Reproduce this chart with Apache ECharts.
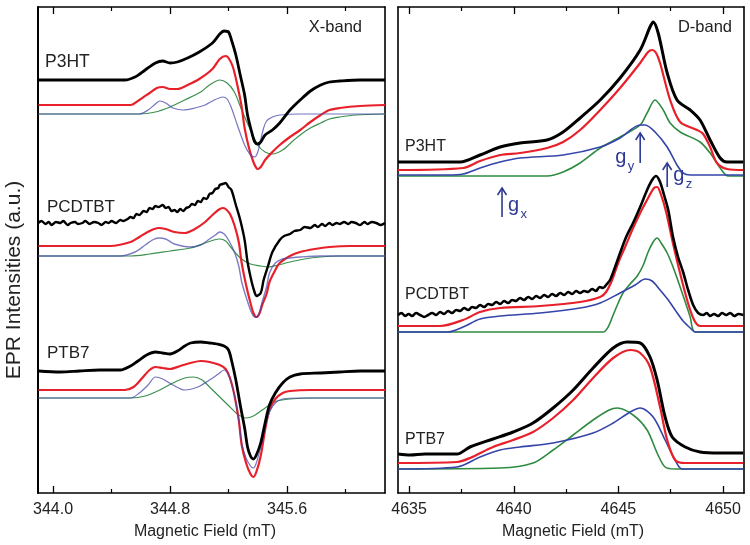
<!DOCTYPE html>
<html><head><meta charset="utf-8">
<script src="https://cdn.jsdelivr.net/npm/echarts@6/dist/echarts.min.js"></script>
<style>html,body{margin:0;padding:0;background:#fff}#c{width:750px;height:545px}</style>
</head><body><div id="c"></div>
<script>
// ---------- tick values ----------
const xMajor = [344.0, 344.8, 345.6];
const xMinor = [344.4, 345.2, 346.0];
const dMajor = [4635, 4640, 4645, 4650];
const dMinor = [4637.5, 4642.5, 4647.5];

// ---------- X-band spectra [field mT, intensity a.u.] ----------
const xP3HT_exp = [[343.90,413],[344.49,413],[344.56,416],[344.63,423],[344.70,430],[344.75,432],[344.80,430],[344.85,431],[344.92,435],[345.00,441],[345.09,450],[345.14,459],[345.17,462],[345.20,461],[345.22,453],[345.25,438],[345.28,418],[345.31,398],[345.33,378],[345.36,360],[345.38,351],[345.40,349],[345.42,351],[345.45,358],[345.50,363],[345.55,370],[345.62,383],[345.69,393],[345.76,402],[345.83,408],[345.89,411],[345.96,412],[346.10,413],[346.27,413]];
const xP3HT_sim = [[343.90,388],[344.53,388],[344.59,393],[344.66,400],[344.71,405],[344.75,406],[344.80,404],[344.85,404],[344.92,408],[345.00,414],[345.09,424],[345.14,434],[345.18,437],[345.20,435],[345.23,426],[345.26,408],[345.29,386],[345.31,365],[345.34,345],[345.37,331],[345.39,325],[345.40,324],[345.42,326],[345.45,333],[345.50,341],[345.55,348],[345.62,356],[345.69,363],[345.76,371],[345.83,378],[345.89,383],[345.96,385],[346.10,387],[346.27,388]];
const xP3HT_c1 = [[343.90,379],[344.59,379],[344.65,383],[344.70,389],[344.73,392],[344.77,390],[344.82,385],[344.89,383],[344.97,385],[345.04,388],[345.09,392],[345.16,396],[345.19,394],[345.22,385],[345.26,368],[345.31,348],[345.35,338],[345.38,336],[345.40,341],[345.42,353],[345.44,365],[345.46,372],[345.50,376],[345.55,378],[345.69,379],[346.27,379]];
const xP3HT_c2 = [[343.90,379],[344.59,379],[344.70,381],[344.80,386],[344.90,393],[345.01,401],[345.07,408],[345.14,413],[345.19,410],[345.24,401],[345.29,383],[345.35,363],[345.40,348],[345.45,341],[345.50,339],[345.57,343],[345.64,352],[345.69,358],[345.76,365],[345.83,370],[345.89,374],[345.96,376],[346.07,378],[346.27,379]];

const xPCDTBT_exp = [[343.90,270],[343.92,272],[343.95,269],[343.97,271],[343.99,268],[344.02,271],[344.05,270],[344.07,272],[344.10,268],[344.12,270],[344.15,271],[344.17,269],[344.20,270],[344.22,272],[344.25,269],[344.28,271],[344.31,270],[344.33,268],[344.36,271],[344.38,270],[344.40,272],[344.43,270],[344.46,273],[344.48,272],[344.51,274],[344.53,276],[344.55,275],[344.57,279],[344.59,278],[344.62,282],[344.64,281],[344.66,285],[344.68,284],[344.70,287],[344.72,286],[344.75,288],[344.77,285],[344.79,286],[344.81,282],[344.83,283],[344.85,281],[344.87,284],[344.89,282],[344.91,285],[344.93,286],[344.95,289],[344.97,288],[344.99,292],[345.01,291],[345.03,295],[345.05,294],[345.07,299],[345.09,300],[345.11,304],[345.13,305],[345.14,308],[345.16,309],[345.18,310],[345.20,306],[345.22,303],[345.25,288],[345.28,273],[345.31,253],[345.33,231],[345.36,210],[345.38,200],[345.39,197],[345.42,200],[345.44,213],[345.47,227],[345.50,241],[345.55,253],[345.58,257],[345.62,259],[345.65,262],[345.69,263],[345.72,266],[345.76,265],[345.79,268],[345.81,266],[345.84,269],[345.86,267],[345.89,270],[345.91,268],[345.94,270],[345.96,269],[345.99,271],[346.02,269],[346.04,271],[346.07,270],[346.10,268],[346.13,271],[346.15,269],[346.18,271],[346.21,270],[346.24,268],[346.27,270]];
const xPCDTBT_sim = [[343.90,247],[344.39,247],[344.53,251],[344.59,256],[344.66,262],[344.72,265],[344.77,264],[344.83,261],[344.90,260],[344.97,264],[345.04,271],[345.09,278],[345.13,283],[345.16,285],[345.18,284],[345.21,279],[345.24,268],[345.27,251],[345.29,230],[345.32,208],[345.35,190],[345.37,180],[345.39,176],[345.41,179],[345.43,188],[345.46,199],[345.48,211],[345.52,223],[345.55,230],[345.62,237],[345.69,241],[345.79,244],[345.89,246],[346.03,247],[346.27,247]];
const xPCDTBT_c1 = [[343.90,237],[344.46,237],[344.56,241],[344.63,248],[344.68,253],[344.72,255],[344.77,254],[344.83,249],[344.94,246],[345.01,248],[345.07,254],[345.11,258],[345.14,261],[345.17,259],[345.20,253],[345.24,241],[345.27,227],[345.29,211],[345.32,196],[345.35,183],[345.37,177],[345.39,176],[345.41,180],[345.43,191],[345.46,206],[345.48,220],[345.52,230],[345.57,234],[345.62,235],[345.69,236],[345.83,237],[346.27,237]];
const xPCDTBT_c2 = [[343.90,237],[344.53,237],[344.66,239],[344.80,242],[344.94,245],[345.04,250],[345.10,253],[345.14,254],[345.18,252],[345.22,245],[345.28,235],[345.35,229],[345.42,227],[345.47,226],[345.54,228],[345.62,231],[345.72,234],[345.83,236],[345.96,237],[346.27,237]];

const xPTB7_exp = [[343.90,122],[344.05,121],[344.18,122],[344.32,123],[344.46,123],[344.53,127],[344.58,132],[344.64,138],[344.70,141],[344.75,140],[344.80,139],[344.85,142],[344.90,147],[344.94,150],[345.01,151],[345.07,150],[345.12,149],[345.17,147],[345.20,143],[345.22,133],[345.25,113],[345.28,88],[345.31,65],[345.33,46],[345.35,37],[345.37,34],[345.39,38],[345.42,50],[345.45,70],[345.48,88],[345.52,100],[345.57,110],[345.62,116],[345.69,119],[345.83,120],[345.96,121],[346.10,122],[346.27,122]];
const xPTB7_sim = [[343.90,103],[344.49,103],[344.55,106],[344.61,115],[344.66,123],[344.70,126],[344.75,125],[344.80,124],[344.87,127],[344.94,130],[345.01,132],[345.07,131],[345.14,128],[345.18,124],[345.21,115],[345.24,98],[345.27,73],[345.29,48],[345.32,30],[345.35,19],[345.37,16],[345.39,21],[345.42,37],[345.45,63],[345.48,83],[345.52,94],[345.57,100],[345.62,102],[345.76,103],[346.27,103]];
const xPTB7_c1 = [[343.90,95],[344.53,95],[344.59,100],[344.65,108],[344.70,116],[344.75,114],[344.82,108],[344.90,103],[344.99,106],[345.07,113],[345.13,119],[345.17,123],[345.20,118],[345.24,98],[345.27,73],[345.29,50],[345.32,35],[345.35,27],[345.37,25],[345.39,30],[345.42,46],[345.45,65],[345.48,81],[345.52,90],[345.57,94],[345.69,95],[346.27,95]];
const xPTB7_c2 = [[343.90,95],[344.53,95],[344.63,97],[344.73,103],[344.82,110],[344.90,115],[344.96,116],[345.02,113],[345.07,106],[345.14,96],[345.21,86],[345.26,79],[345.32,75],[345.37,77],[345.43,83],[345.48,88],[345.53,92],[345.62,94],[345.76,95],[346.27,95]];

// ---------- D-band spectra ----------
const dP3HT_exp = [[4634.47,331],[4637.44,331],[4638.39,338],[4639.35,346],[4640.30,350],[4641.59,353],[4642.36,361],[4643.17,375],[4644.13,393],[4645.08,415],[4646.04,443],[4646.51,466],[4646.66,471],[4646.90,460],[4647.33,420],[4647.80,393],[4648.43,383],[4648.90,373],[4649.38,353],[4649.86,335],[4650.19,331],[4650.96,331]];
const dP3HT_sim = [[4634.47,323],[4637.58,325],[4638.39,332],[4639.35,338],[4640.30,340],[4641.59,345],[4642.36,351],[4643.17,363],[4644.13,383],[4645.08,405],[4646.04,430],[4646.42,441],[4646.61,443],[4646.80,440],[4646.99,430],[4647.47,393],[4647.95,371],[4648.76,363],[4649.05,359],[4649.38,346],[4649.71,330],[4650.19,324],[4650.96,323]];
const dP3HT_c1 = [[4634.47,318],[4636.82,318],[4637.58,319],[4638.39,325],[4639.35,331],[4640.30,335],[4642.36,338],[4644.13,346],[4645.08,355],[4646.04,368],[4646.28,368],[4646.75,361],[4647.33,346],[4647.80,328],[4648.09,320],[4648.43,318],[4650.96,318]];
const dP3HT_c2 = [[4634.47,317],[4641.59,317],[4642.36,321],[4643.17,330],[4644.13,345],[4645.08,356],[4646.04,368],[4646.37,380],[4646.75,393],[4647.14,383],[4647.47,370],[4647.95,361],[4648.90,351],[4649.38,340],[4649.86,325],[4650.24,317],[4650.96,317]];

const dPCDTBT_exp = [[4634.47,178],[4634.64,180],[4634.81,177],[4634.98,179],[4635.14,177],[4635.33,180],[4635.53,178],[4635.72,176],[4635.91,178],[4636.10,180],[4636.29,178],[4636.48,181],[4636.67,179],[4636.86,182],[4637.05,180],[4637.25,183],[4637.44,182],[4637.63,185],[4637.82,183],[4638.01,186],[4638.20,185],[4638.39,188],[4638.58,186],[4638.78,189],[4638.97,188],[4639.16,191],[4639.35,189],[4639.54,192],[4639.73,190],[4639.92,193],[4640.11,192],[4640.30,195],[4640.49,193],[4640.69,196],[4640.88,194],[4641.07,197],[4641.26,195],[4641.45,198],[4641.64,196],[4641.83,199],[4642.02,197],[4642.22,200],[4642.41,198],[4642.60,201],[4642.79,199],[4642.98,202],[4643.17,200],[4643.36,202],[4643.55,201],[4643.74,204],[4643.93,202],[4644.10,206],[4644.27,205],[4644.45,209],[4644.60,213],[4644.79,223],[4645.08,240],[4645.37,256],[4645.70,270],[4646.04,286],[4646.37,303],[4646.61,313],[4646.80,317],[4646.99,311],[4647.18,298],[4647.38,283],[4647.61,256],[4647.85,236],[4648.09,221],[4648.33,203],[4648.57,188],[4648.81,180],[4649.05,178],[4649.22,180],[4649.38,177],[4649.57,179],[4649.76,177],[4649.95,180],[4650.15,178],[4650.34,180],[4650.53,177],[4650.74,179],[4650.96,178]];
const dPCDTBT_sim = [[4634.47,167],[4636.48,167],[4637.58,173],[4638.39,181],[4639.35,185],[4641.26,187],[4643.17,191],[4644.13,196],[4644.41,201],[4644.70,213],[4644.99,230],[4645.32,246],[4645.66,263],[4646.04,280],[4646.42,295],[4646.70,305],[4646.85,306],[4647.04,298],[4647.28,281],[4647.57,253],[4647.85,228],[4648.19,200],[4648.43,183],[4648.67,171],[4648.90,167],[4650.96,167]];
const dPCDTBT_c1 = [[4634.47,161],[4636.82,161],[4637.58,166],[4638.39,174],[4639.35,177],[4641.26,180],[4643.17,185],[4644.13,190],[4645.08,200],[4645.80,208],[4646.28,214],[4646.61,212],[4646.99,203],[4647.38,193],[4647.71,183],[4648.09,172],[4648.43,165],[4648.67,161],[4650.96,161]];
const dPCDTBT_c2 = [[4634.47,161],[4644.27,161],[4644.51,166],[4644.75,178],[4644.99,190],[4645.22,200],[4645.56,209],[4645.90,217],[4646.19,228],[4646.42,241],[4646.66,251],[4646.85,255],[4647.04,250],[4647.33,240],[4647.61,226],[4647.95,206],[4648.24,188],[4648.43,176],[4648.67,161],[4650.96,161]];

const dPTB7_exp = [[4634.47,39],[4635.05,38],[4635.76,39],[4636.48,39],[4637.29,39],[4637.91,46],[4639.01,54],[4639.97,61],[4640.92,70],[4641.88,85],[4642.84,103],[4643.79,125],[4644.75,145],[4645.42,151],[4646.04,150],[4646.51,136],[4646.85,113],[4647.23,76],[4647.57,56],[4648.19,46],[4648.90,41],[4649.86,40],[4650.96,40]];
const dPTB7_sim = [[4634.47,30],[4637.29,31],[4637.91,35],[4639.01,46],[4639.97,53],[4640.92,61],[4641.88,75],[4642.84,93],[4643.79,115],[4644.75,135],[4645.56,143],[4646.04,140],[4646.51,126],[4646.99,86],[4647.33,53],[4647.71,33],[4648.19,30],[4650.96,30]];
const dPTB7_c1 = [[4634.47,24],[4637.29,26],[4638.39,36],[4639.35,43],[4640.30,46],[4641.88,50],[4643.79,60],[4644.75,70],[4645.56,81],[4646.04,85],[4646.66,76],[4647.23,53],[4647.71,33],[4648.04,24],[4650.96,24]];
const dPTB7_c2 = [[4634.47,24],[4639.35,25],[4640.92,30],[4641.88,43],[4642.84,58],[4643.79,73],[4644.56,83],[4644.94,85],[4645.70,78],[4646.37,63],[4646.85,40],[4647.23,26],[4647.71,24],[4650.96,24]];

// ---------- annotation arrows on D-band: [label, sub, field, from, to] ----------
const gArrows = [['g','x',4639.44,276,305],['g','y',4646.04,330,360],['g','z',4647.33,306,330]];

// ---------- rendering ----------
const FONT = '"Liberation Sans", Arial, Helvetica, sans-serif';
const TXT = '#222';
const chart = echarts.init(document.getElementById('c'), null, {renderer:'canvas'});

const G = [
  {left:38, top:7, width:347, height:486},
  {left:398, top:7, width:346, height:486}
];
const RANGES = [[343.897, 346.27],[4634.47, 4651.0]];
const MAJ = [xMajor, dMajor], MIN = [xMinor, dMinor];
const FMT = [v => v.toFixed(1), v => String(Math.round(v))];

const xAxes = [], yAxes = [];
for (let g = 0; g < 2; g++) {
  const base = {type:'value', gridIndex:g, min:RANGES[g][0], max:RANGES[g][1], splitLine:{show:false}};
  xAxes.push(Object.assign({}, base, {position:'bottom',
    axisLine:{show:true, onZero:false, lineStyle:{color:'#000', width:1.6}},
    axisTick:{show:true, inside:true, length:7, customValues:MAJ[g], lineStyle:{color:'#000', width:1.3}},
    axisLabel:{show:true, customValues:MAJ[g], formatter:FMT[g], margin:9, fontSize:16, color:TXT, fontFamily:FONT}}));
  xAxes.push(Object.assign({}, base, {position:'bottom',
    axisLine:{show:false, onZero:false},
    axisTick:{show:true, inside:true, length:4, customValues:MIN[g], lineStyle:{color:'#000', width:1.2}},
    axisLabel:{show:false}}));
  xAxes.push(Object.assign({}, base, {position:'top',
    axisLine:{show:true, onZero:false, lineStyle:{color:'#000', width:1.6}},
    axisTick:{show:true, inside:true, length:7, customValues:MAJ[g], lineStyle:{color:'#000', width:1.3}},
    axisLabel:{show:false}}));
  xAxes.push(Object.assign({}, base, {position:'top',
    axisLine:{show:false, onZero:false},
    axisTick:{show:true, inside:true, length:4, customValues:MIN[g], lineStyle:{color:'#000', width:1.2}},
    axisLabel:{show:false}}));
  const yb = {type:'value', gridIndex:g, min:0, max:486, splitLine:{show:false}, axisTick:{show:false}, axisLabel:{show:false}};
  yAxes.push(Object.assign({}, yb, {position:'left', axisLine:{show:true, onZero:false, lineStyle:{color:'#000', width: g===0?2:1.6}}}));
  yAxes.push(Object.assign({}, yb, {position:'right', axisLine:{show:true, onZero:false, lineStyle:{color:'#000', width:1.6}}}));
}

function ln(data, g, color, width, opacity) {
  return {type:'line', data:data, xAxisIndex:g*4, yAxisIndex:g*2, showSymbol:false, symbol:'none',
    smooth:0.3, animation:false, silent:true,
    lineStyle:{color:color, width:width, opacity:opacity===undefined?1:opacity}};
}
const RED = '#e8202a', BLK = '#000000';
const BLU_X = '#4646ac', GRN_X = '#3d9050';
const BLU_D = '#3444a8', GRN_D = '#2f8a42';

const series = [
  ln(xP3HT_c2,0,GRN_X,1.2), ln(xP3HT_sim,0,RED,2.2), ln(xP3HT_c1,0,BLU_X,1.2,0.75), ln(xP3HT_exp,0,BLK,2.8),
  ln(xPCDTBT_c2,0,GRN_X,1.2), ln(xPCDTBT_sim,0,RED,2.2), ln(xPCDTBT_c1,0,BLU_X,1.4,0.7), ln(xPCDTBT_exp,0,BLK,2.4),
  ln(xPTB7_c2,0,GRN_X,1.2), ln(xPTB7_sim,0,RED,2.2), ln(xPTB7_c1,0,BLU_X,1.2,0.75), ln(xPTB7_exp,0,BLK,2.8),
  ln(dP3HT_c2,1,GRN_D,1.6), ln(dP3HT_c1,1,BLU_D,1.6), ln(dP3HT_sim,1,RED,2.2), ln(dP3HT_exp,1,BLK,3),
  ln(dPCDTBT_c2,1,GRN_D,1.6), ln(dPCDTBT_c1,1,BLU_D,1.6), ln(dPCDTBT_sim,1,RED,2.2), ln(dPCDTBT_exp,1,BLK,2.6),
  ln(dPTB7_c2,1,GRN_D,1.6), ln(dPTB7_c1,1,BLU_D,1.6), ln(dPTB7_sim,1,RED,2.2), ln(dPTB7_exp,1,BLK,3)
];

chart.setOption({
  backgroundColor:'#fff', animation:false,
  grid:G, xAxis:xAxes, yAxis:yAxes, series:series
});

// text labels (layout positions)
function txt(x, y, s, size, align, extra) {
  return Object.assign({type:'text', x:x, y:y, silent:true,
    style:{text:s, fontSize:size, fontFamily:FONT, fill:TXT, align:align||'left', verticalAlign:'middle'}}, extra||{});
}
const graphics = [
  txt(14, 280, 'EPR Intensities (a.u.)', 21, 'center', {rotation:Math.PI/2}),
  txt(205, 532, 'Magnetic Field (mT)', 16, 'center'),
  txt(573, 532, 'Magnetic Field (mT)', 16, 'center'),
  txt(362, 27, 'X-band', 16.5, 'right'),
  txt(732, 27, 'D-band', 16.5, 'right'),
  txt(45, 62, 'P3HT', 17.5), txt(47, 207, 'PCDTBT', 17), txt(47, 353, 'PTB7', 17),
  txt(405, 147, 'P3HT', 16), txt(405, 295, 'PCDTBT', 16), txt(405, 440, 'PTB7', 16)
];
// arrows anchored through the D-band axes
const ARROW = '#2e3a94';
const dSeriesIdx = 15;
gArrows.forEach(function(a, i) {
  const p0 = chart.convertToPixel({seriesIndex:dSeriesIdx}, [a[2], a[3]]);
  const p1 = chart.convertToPixel({seriesIndex:dSeriesIdx}, [a[2], a[4]]);
  graphics.push({type:'line', silent:true, shape:{x1:p0[0], y1:p0[1], x2:p1[0], y2:p1[1]}, style:{stroke:ARROW, lineWidth:1.6}});
  graphics.push({type:'polyline', silent:true, shape:{points:[[p1[0]-4.5,p1[1]+7],[p1[0],p1[1]],[p1[0]+4.5,p1[1]+7]]}, style:{stroke:ARROW, lineWidth:1.6, fill:null}});
  let gx, gy;
  if (i === 1) { gx = p1[0] - 25; gy = p0[1] - 6; }
  else { gx = p1[0] + 6; gy = p0[1] - 12; }
  graphics.push({type:'text', x:gx, y:gy, silent:true, style:{text:a[0], fontSize:20, fontFamily:FONT, fill:ARROW, align:'left', verticalAlign:'middle'}});
  graphics.push({type:'text', x:gx+12.5, y:gy+9, silent:true, style:{text:a[1], fontSize:13, fontFamily:FONT, fill:ARROW, align:'left', verticalAlign:'middle'}});
});
chart.setOption({graphic:graphics});
</script></body></html>
